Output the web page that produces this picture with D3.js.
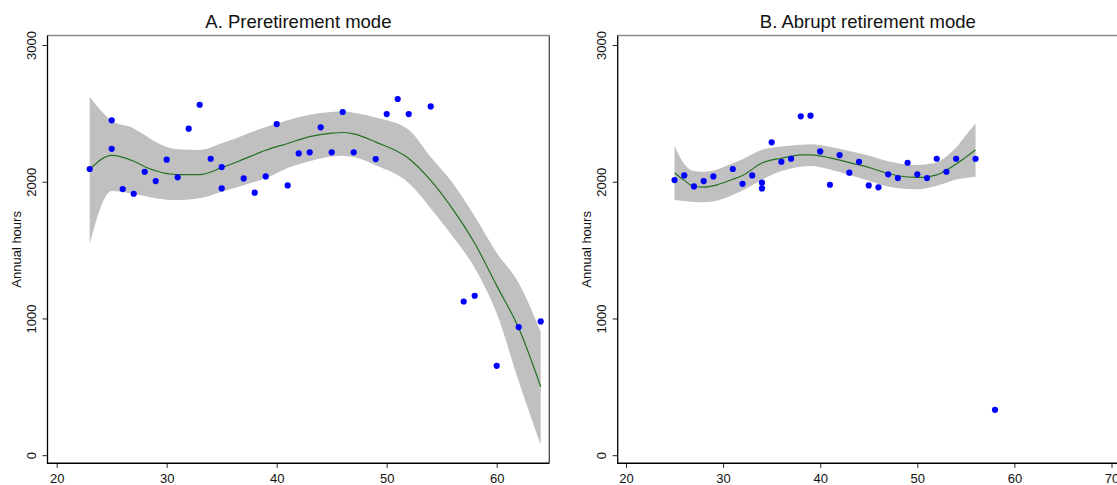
<!DOCTYPE html>
<html>
<head>
<meta charset="utf-8">
<script src="https://cdn.jsdelivr.net/npm/d3@7/dist/d3.min.js"></script>
<style>
  html, body { margin: 0; padding: 0; background: #fff; }
  svg { display: block; font-family: "Liberation Sans", Arial, sans-serif; }
</style>
</head>
<body>
<svg id="chart" width="1117" height="485"></svg>
<script>
// Annual hours by age, with a smoothed fit and its confidence band.

// ---- Panel A: preretirement mode ----
const titleA = "A. Preretirement mode";
const agesA  = [23, 25, 25, 26, 27, 28, 29, 30, 31, 32, 33, 34, 35, 35, 37, 38, 39, 40, 41, 42,
                43, 44, 45, 46, 47, 49, 50, 51, 52, 54, 57, 58, 60, 62, 64];
const hoursA = [2093, 2449, 2241, 1946, 1912, 2073, 2005, 2161, 2032, 2388, 2563, 2168, 2107, 1951,
                2024, 1920, 2039, 2422, 1973, 2207, 2215, 2398, 2215, 2510, 2215, 2166, 2495, 2605,
                2495, 2551, 1124, 1166, 654, 937, 978];
const fitAgesA = [23, 25, 27, 28, 29, 31, 33, 35, 37, 39, 41, 43, 45, 46, 47, 49, 52, 54, 56, 58, 60, 62, 64];
const fitA     = [2090, 2193, 2150, 2110, 2080, 2052, 2052, 2103, 2165, 2230, 2280, 2330, 2355, 2360,
                  2350, 2290, 2170, 2010, 1800, 1550, 1240, 930, 501];
const lowerA   = [1545, 1932, 1910, 1896, 1880, 1866, 1879, 1927, 1975, 2025, 2100, 2150, 2185, 2190,
                  2180, 2120, 1990, 1805, 1600, 1370, 1038, 540, 75];
const upperA   = [2622, 2447, 2390, 2342, 2290, 2237, 2232, 2281, 2340, 2400, 2450, 2490, 2510, 2515,
                  2505, 2470, 2380, 2180, 1990, 1748, 1480, 1260, 903];
const xTicksA  = [20, 30, 40, 50, 60];

// ---- Panel B: abrupt retirement mode ----
const titleB = "B. Abrupt retirement mode";
const agesB  = [25, 26, 27, 28, 29, 31, 32, 33, 34, 34, 35, 36, 37, 38, 39, 40, 41, 42, 43, 44,
                45, 46, 47, 48, 49, 50, 51, 52, 53, 54, 56, 58];
const hoursB = [2012, 2046, 1966, 2005, 2039, 2093, 1985, 2046, 1993, 1951, 2288, 2146, 2168, 2478,
                2483, 2222, 1978, 2195, 2066, 2146, 1973, 1959, 2054, 2027, 2139, 2054, 2027, 2168,
                2073, 2168, 2168, 332];
const fitAgesB = [25, 26, 27, 28, 29, 31, 32, 34, 36, 38, 39, 41, 43, 45, 47, 48, 50, 51, 52, 53, 54, 55, 56];
const fitB     = [2066, 2010, 1965, 1960, 1970, 2018, 2045, 2137, 2172, 2196, 2197, 2175, 2140, 2105,
                  2060, 2044, 2032, 2036, 2050, 2085, 2130, 2180, 2232];
const lowerB   = [1866, 1860, 1852, 1850, 1856, 1903, 1935, 2015, 2078, 2110, 2115, 2090, 2050, 2008,
                  1965, 1953, 1945, 1955, 1970, 1992, 2016, 2028, 2037];
const upperB   = [2264, 2130, 2078, 2073, 2082, 2135, 2165, 2234, 2258, 2271, 2274, 2255, 2225, 2192,
                  2150, 2136, 2122, 2128, 2140, 2185, 2250, 2340, 2427];
const xTicksB  = [20, 30, 40, 50, 60, 70];

// ---- Shared y axis ----
const yTicks = [0, 1000, 2000, 3000];
const yLabel = "Annual hours";

const svg = d3.select("#chart");

const frameTop = 35.5, frameBottom = 463.3;
const y = d3.scaleLinear().domain([0, 3000]).range([455.2, 45]);

const panels = [
  { title: titleA, ages: agesA, hours: hoursA, fitAges: fitAgesA, fit: fitA, lower: lowerA, upper: upperA,
    xTicks: xTicksA, left: 47.5, right: 549.3, xDomain: [20, 60], xRange: [56.7, 496.7], yTitleX: 21 },
  { title: titleB, ages: agesB, hours: hoursB, fitAges: fitAgesB, fit: fitB, lower: lowerB, upper: upperB,
    xTicks: xTicksB, left: 617.7, right: 1118, xDomain: [20, 70], xRange: [626, 1111.5], yTitleX: 590.5 }
];

panels.forEach(p => {
  const x = d3.scaleLinear().domain(p.xDomain).range(p.xRange);
  const g = svg.append("g");

  // plot frame: grey top, dark right, black axis lines left and bottom
  g.append("line").attr("x1", p.left).attr("x2", p.right).attr("y1", frameTop).attr("y2", frameTop)
    .attr("stroke", "#8a8a8a").attr("stroke-width", 1.6);
  g.append("line").attr("x1", p.right).attr("x2", p.right).attr("y1", frameTop).attr("y2", frameBottom)
    .attr("stroke", "#3a3a3a").attr("stroke-width", 1.2);

  // confidence band
  const fitRows = p.fitAges.map((a, i) => ({ a, f: p.fit[i], lo: p.lower[i], hi: p.upper[i] }));
  g.append("path").datum(fitRows)
    .attr("d", d3.area().x(d => x(d.a)).y0(d => y(d.lo)).y1(d => y(d.hi)).curve(d3.curveMonotoneX))
    .attr("fill", "#c0c0c0");

  // smoothed fit
  g.append("path").datum(fitRows)
    .attr("d", d3.line().x(d => x(d.a)).y(d => y(d.f)).curve(d3.curveMonotoneX))
    .attr("fill", "none").attr("stroke", "#237023").attr("stroke-width", 1.2);

  // observations
  g.selectAll("circle.pt").data(p.ages.map((a, i) => ({ a, h: p.hours[i] })))
    .join("circle").attr("class", "pt")
    .attr("cx", d => x(d.a)).attr("cy", d => y(d.h)).attr("r", 3.1)
    .attr("fill", "#0000ff");

  // y axis
  const ya = g.append("g").attr("transform", `translate(${p.left},0)`)
    .call(d3.axisLeft(y).tickValues(yTicks).tickFormat(d3.format("d")).tickSize(5));
  ya.select(".domain").remove();
  ya.selectAll(".tick line").attr("stroke", "#222");
  ya.selectAll(".tick text")
    .attr("x", 0).attr("dy", 0).attr("text-anchor", "middle")
    .attr("transform", "translate(-11.5,0) rotate(-90)")
    .attr("font-size", 13).attr("fill", "#111").attr("font-family", "Liberation Sans, Arial, sans-serif");

  // x axis
  const xa = g.append("g").attr("transform", `translate(0,${frameBottom})`)
    .call(d3.axisBottom(x).tickValues(p.xTicks).tickFormat(d3.format("d")).tickSize(4.5));
  xa.select(".domain").remove();
  xa.selectAll(".tick line").attr("stroke", "#222");
  xa.selectAll(".tick text")
    .attr("y", 20.2).attr("dy", 0)
    .attr("font-size", 13).attr("fill", "#111").attr("font-family", "Liberation Sans, Arial, sans-serif");

  // black axis lines
  g.append("line").attr("x1", p.left).attr("x2", p.left).attr("y1", frameTop).attr("y2", frameBottom + 0.7)
    .attr("stroke", "#000").attr("stroke-width", 1.3);
  g.append("line").attr("x1", p.left).attr("x2", p.right).attr("y1", frameBottom).attr("y2", frameBottom)
    .attr("stroke", "#000").attr("stroke-width", 1.4);

  // y axis title
  g.append("text").attr("transform", `translate(${p.yTitleX},${(frameTop + frameBottom) / 2}) rotate(-90)`)
    .attr("text-anchor", "middle").attr("font-size", 13).attr("fill", "#111").text(yLabel);

  // panel title
  g.append("text").attr("x", (p.left + p.right) / 2).attr("y", 28.3)
    .attr("text-anchor", "middle").attr("font-size", 18.5).attr("fill", "#111").text(p.title);
});
</script>
</body>
</html>
